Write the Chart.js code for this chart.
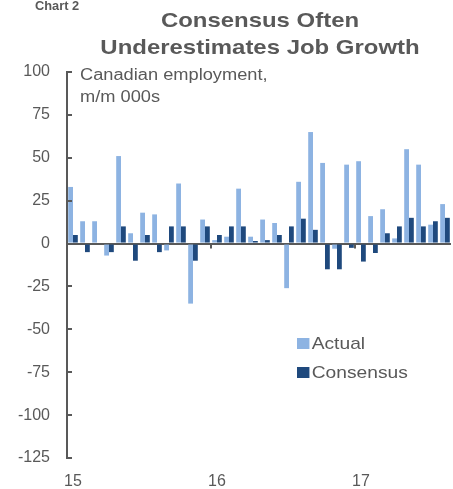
<!DOCTYPE html>
<html>
<head>
<meta charset="utf-8">
<script src="https://cdn.jsdelivr.net/npm/chart.js@4/dist/chart.umd.min.js"></script>
<style>
  html, body { margin: 0; padding: 0; background: #ffffff; }
  #wrap { position: relative; width: 453px; height: 489px; overflow: hidden; font-family: "Liberation Sans", Arial, sans-serif; color: #595959; }
  canvas { position: absolute; left: 0; top: 0; }
  .t { position: absolute; white-space: nowrap; transform-origin: 0 0; }
  #chartno { left: 35px; top: -2px; font-size: 13.5px; line-height: 15px; font-weight: bold; transform: scaleX(0.95); }
  #title { left: 0; width: 453px; top: 6px; text-align: center; }
  #title div { font-size: 21px; font-weight: bold; line-height: 27px; transform: scaleX(1.14); transform-origin: 260px 0; text-align: center; width: 520px; margin-left: 0; }
  #note { left: 80px; top: 64px; font-size: 16px; line-height: 22px; transform: scaleX(1.14); }
  #legend { left: 297px; top: 329px; font-size: 17px; line-height: 29px; }
  #legend .item { display: flex; align-items: center; transform: scaleX(1.13); transform-origin: 0 50%; }
  #legend .sw { width: 11px; height: 11px; margin-right: 2px; display: inline-block; }
</style>
</head>
<body>
<div id="wrap">
  <canvas id="c" width="453" height="489"></canvas>
  <div class="t" id="chartno">Chart 2</div>
  <div class="t" id="title"></div>
  <div class="t" id="note">Canadian employment,<br>m/m 000s</div>
  <div class="t" id="legend"></div>
</div>
<script>
// ---- data ----
const months = [
  '2015-01','2015-02','2015-03','2015-04','2015-05','2015-06','2015-07','2015-08','2015-09','2015-10','2015-11','2015-12',
  '2016-01','2016-02','2016-03','2016-04','2016-05','2016-06','2016-07','2016-08','2016-09','2016-10','2016-11','2016-12',
  '2017-01','2017-02','2017-03','2017-04','2017-05','2017-06','2017-07','2017-08'
];
const actual = [
  33, 13, 13, -7, 51, 6, 18, 17, -4, 35, -35, 14,
  2, 4, 32, 4, 14, 12, -26, 36, 65, 47, -3, 46,
  48, 16, 20, 3, 55, 46, 11, 23
];
const consensus = [
  5, -5, 0, -5, 10, -10, 5, -5, 10, 10, -10, 10,
  5, 10, 10, 1.5, 2, 5, 10, 14.5, 8, -15, -15, -2.5,
  -10.5, -5.5, 6, 10, 15, 10, 13, 15
];
const yearTickLabels = { '2015-01': '15', '2016-01': '16', '2017-01': '17' };
const titleLines = ['Consensus Often', 'Underestimates Job Growth'];
const seriesNames = ['Actual', 'Consensus'];
const seriesColors = ['#8db3e2', '#1f497d'];
const yMin = -125, yMax = 100, yStep = 25;

// ---- text ----
document.getElementById('title').innerHTML = titleLines.map(s => '<div>' + s + '</div>').join('');
document.getElementById('legend').innerHTML = seriesNames.map((n, i) =>
  '<div class="item"><span class="sw" style="background:' + seriesColors[i] + '"></span>' + n + '</div>').join('');

const AXIS = '#595959';

const marks = {
  id: 'marks',
  afterDraw(chart) {
    const ctx = chart.ctx, x = chart.scales.x, y = chart.scales.y;
    const left = chart.chartArea.left;
    ctx.save();
    ctx.strokeStyle = AXIS;
    ctx.lineWidth = 2;
    y.ticks.forEach(t => {
      const py = Math.round(y.getPixelForValue(t.value));
      ctx.beginPath(); ctx.moveTo(left, py); ctx.lineTo(left + 5, py); ctx.stroke();
    });
    const y0 = y.getPixelForValue(0);
    months.forEach((m, i) => {
      if (i > 0 && yearTickLabels[m]) {
        const px = (x.getPixelForValue(i - 1) + x.getPixelForValue(i)) / 2;
        ctx.beginPath(); ctx.moveTo(px, y0); ctx.lineTo(px, y0 + 5); ctx.stroke();
      }
    });
    ctx.restore();
  }
};

new Chart(document.getElementById('c'), {
  type: 'bar',
  data: {
    labels: months,
    datasets: [
      { label: seriesNames[0], data: actual, backgroundColor: seriesColors[0], borderWidth: 0 },
      { label: seriesNames[1], data: consensus, backgroundColor: seriesColors[1], borderWidth: 0 }
    ]
  },
  options: {
    responsive: false,
    animation: false,
    devicePixelRatio: 1,
    layout: { padding: { top: 72, right: 2, left: 0, bottom: 0 } },
    plugins: { legend: { display: false }, title: { display: false }, tooltip: { enabled: false } },
    datasets: { bar: { categoryPercentage: 0.8, barPercentage: 1.0 } },
    scales: {
      x: {
        grid: { display: false },
        border: { display: false },
        ticks: {
          autoSkip: false, maxRotation: 0, padding: 6,
          color: AXIS, font: { family: 'Liberation Sans', size: 16 },
          callback: function (v, i) { return yearTickLabels[months[i]] || ''; }
        },
        afterFit(s) { s.height = 31; }
      },
      y: {
        min: yMin, max: yMax,
        grid: {
          drawTicks: false,
          color: c => (c.tick && c.tick.value === 0) ? AXIS : 'rgba(0,0,0,0)',
          lineWidth: 2
        },
        border: { display: true, color: AXIS, width: 2 },
        ticks: {
          stepSize: yStep, padding: 17,
          color: AXIS, font: { family: 'Liberation Sans', size: 16 }
        },
        afterFit(s) { s.width = 67; }
      }
    }
  },
  plugins: [marks]
});
</script>
</body>
</html>
